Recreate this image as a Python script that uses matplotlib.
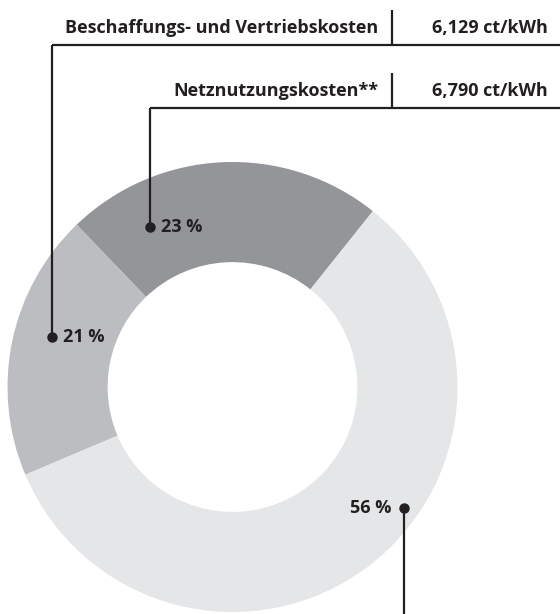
import matplotlib.pyplot as plt

# Anteile am Strompreis (Winkel aus dem Bild gemessen), Beschriftungen wie gedruckt
shares = [22.9, 19.2, 57.9]          # Netznutzung, Beschaffung/Vertrieb, Rest
pct_labels = ["23 %", "21 %", "56 %"]
colors = ["#939598", "#bcbdc0", "#e5e6e7"]

cost_names = ["Beschaffungs- und Vertriebskosten", "Netznutzungskosten**"]
cost_values = ["6,129 ct/kWh", "6,790 ct/kWh"]

W, H = 560, 614
TXT = "#231f20"
FONT = "Open Sans"
FS = 13


def py(y):
    # Pixel-y (von oben) in Datenkoordinaten (von unten)
    return H - y


fig = plt.figure(figsize=(W / 100, H / 100), dpi=100)
ax = fig.add_axes([0, 0, 1, 1])

cx, cy, R = 232.5, py(387), 225
ax.pie(shares, colors=colors, startangle=51.4, counterclock=True,
       center=(cx, cy), radius=R,
       wedgeprops=dict(width=R * 0.445, linewidth=0))

ax.set_xlim(0, W)
ax.set_ylim(0, H)
ax.set_aspect("equal")
ax.axis("off")

lw = 1.6
# obere Kopfzeilen mit Trennstrichen
rows_y = [45, 108]
row_left = [52, 150]
for name, val, yl, xl in zip(cost_names, cost_values, rows_y, row_left):
    ax.plot([xl, W], [py(yl), py(yl)], color=TXT, lw=lw, solid_capstyle="butt")
    ax.plot([392, 392], [py(yl), py(yl - 35)], color=TXT, lw=lw, solid_capstyle="butt")
    ax.text(378, py(yl - 17), name, ha="right", va="center", fontsize=FS,
            fontweight="bold", color=TXT, family=FONT)
    ax.text(548, py(yl - 17), val, ha="right", va="center", fontsize=FS,
            fontweight="bold", color=TXT, family=FONT)

# Führungslinien zu den Prozentwerten
dots = [(150, 227), (52, 337), (404, 508)]
ends = [108, 45, H]
for (dx, dy), ye, lab in zip(dots, ends, pct_labels):
    ax.plot([dx, dx], [py(dy), py(ye)], color=TXT, lw=lw, solid_capstyle="butt")
    ax.plot(dx, py(dy), "o", color=TXT, ms=6.5)
    if lab == "56 %":
        ax.text(dx - 13, py(dy), lab, ha="right", va="center", fontsize=FS,
                fontweight="bold", color=TXT, family=FONT)
    else:
        ax.text(dx + 11, py(dy), lab, ha="left", va="center", fontsize=FS,
                fontweight="bold", color=TXT, family=FONT)

plt.savefig("out.png", dpi=100)
